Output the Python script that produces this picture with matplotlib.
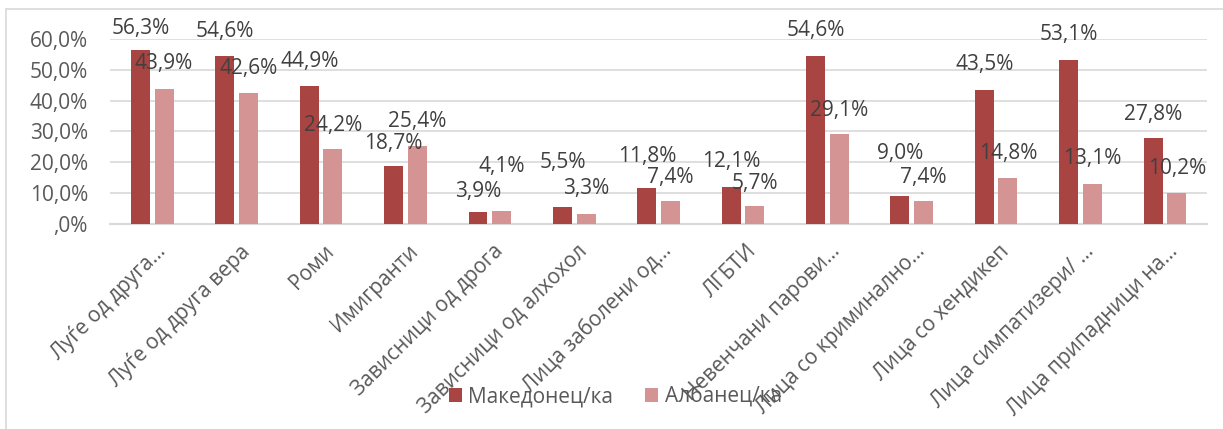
import numpy as np
import matplotlib
matplotlib.use("Agg")
import matplotlib.pyplot as plt
from matplotlib.patches import Rectangle

plt.rcParams['font.family'] = ['Open Sans', 'DejaVu Sans']

# податоци
kategorii = ["Луѓе од друга…", "Луѓе од друга вера", "Роми", "Имигранти",
             "Зависници од дрога", "Зависници од алхохол", "Лица заболени од…",
             "ЛГБТИ", "Невенчани парови…", "Лица со криминално…",
             "Лица со хендикеп", "Лица симпатизери/ …", "Лица припадници на…"]
makedonci = [56.3, 54.6, 44.9, 18.7, 3.9, 5.5, 11.8, 12.1, 54.6, 9.0, 43.5, 53.1, 27.8]
albanci = [43.9, 42.6, 24.2, 25.4, 4.1, 3.3, 7.4, 5.7, 29.1, 7.4, 14.8, 13.1, 10.2]
serii = ["Македонец/ка", "Албанец/ка"]

boja_tem = '#A84442'
boja_svet = '#D59494'
siva = '#595959'

# поместување на етикетите (пиксели над врвот на столбот)
pomest_tem = [22, 24, 24, 23, 20, 44, 31, 25, 25, 43, 25, 26, 24]
pomest_svet = [25, 24, 24, 24, 45, 25, 24, 23, 24, 24, 25, 25, 24]

fig = plt.figure(figsize=(12.23, 4.29), dpi=100)
ax = fig.add_axes([0.09, 0.478, 0.897, 0.431])

x = np.arange(len(kategorii))
sir = 0.225
b1 = ax.bar(x - 0.14, makedonci, sir, color=boja_tem, label=serii[0], zorder=3)
b2 = ax.bar(x + 0.14, albanci, sir, color=boja_svet, label=serii[1], zorder=3)

for bars, vals, pom in [(b1, makedonci, pomest_tem), (b2, albanci, pomest_svet)]:
    for b, v, p in zip(bars, vals, pom):
        ax.annotate(f"{v:.1f}%".replace('.', ','),
                    (b.get_x() + b.get_width() / 2, v),
                    xytext=(0, p), textcoords='offset pixels',
                    ha='center', va='center', fontsize=15, color='#404040')

ax.set_ylim(0, 60)
ax.set_xlim(-0.5, len(kategorii) - 0.5)
ax.set_yticks(np.arange(0, 61, 10))
ax.set_yticklabels([",0%"] + [f"{t},0%" for t in range(10, 61, 10)])
ax.grid(axis='y', color='#D9D9D9', linewidth=1.2, zorder=0)
for s in ['top', 'right', 'left']:
    ax.spines[s].set_visible(False)
ax.spines['bottom'].set_color('#D9D9D9')
ax.spines['bottom'].set_linewidth(1.5)
ax.tick_params(axis='both', length=0, colors=siva, labelsize=15)
ax.tick_params(axis='y', pad=16)
ax.tick_params(axis='x', pad=12)
ax.set_xticks(x + 0.03)
ax.set_xticklabels(kategorii, rotation=45, ha='right', rotation_mode='anchor')

fig.legend(handles=[b1, b2], loc='center', bbox_to_anchor=(0.503, 0.075), ncol=2,
           frameon=False, fontsize=15, labelcolor=siva, handlelength=0.65,
           handleheight=0.65, columnspacing=1.5, handletextpad=0.3)

fig.patches.append(Rectangle((0.005, -0.1), 1.1, 1.08, transform=fig.transFigure,
                             fill=False, edgecolor='#D9D9D9', linewidth=1.2))

fig.savefig("out.png", dpi=100)
